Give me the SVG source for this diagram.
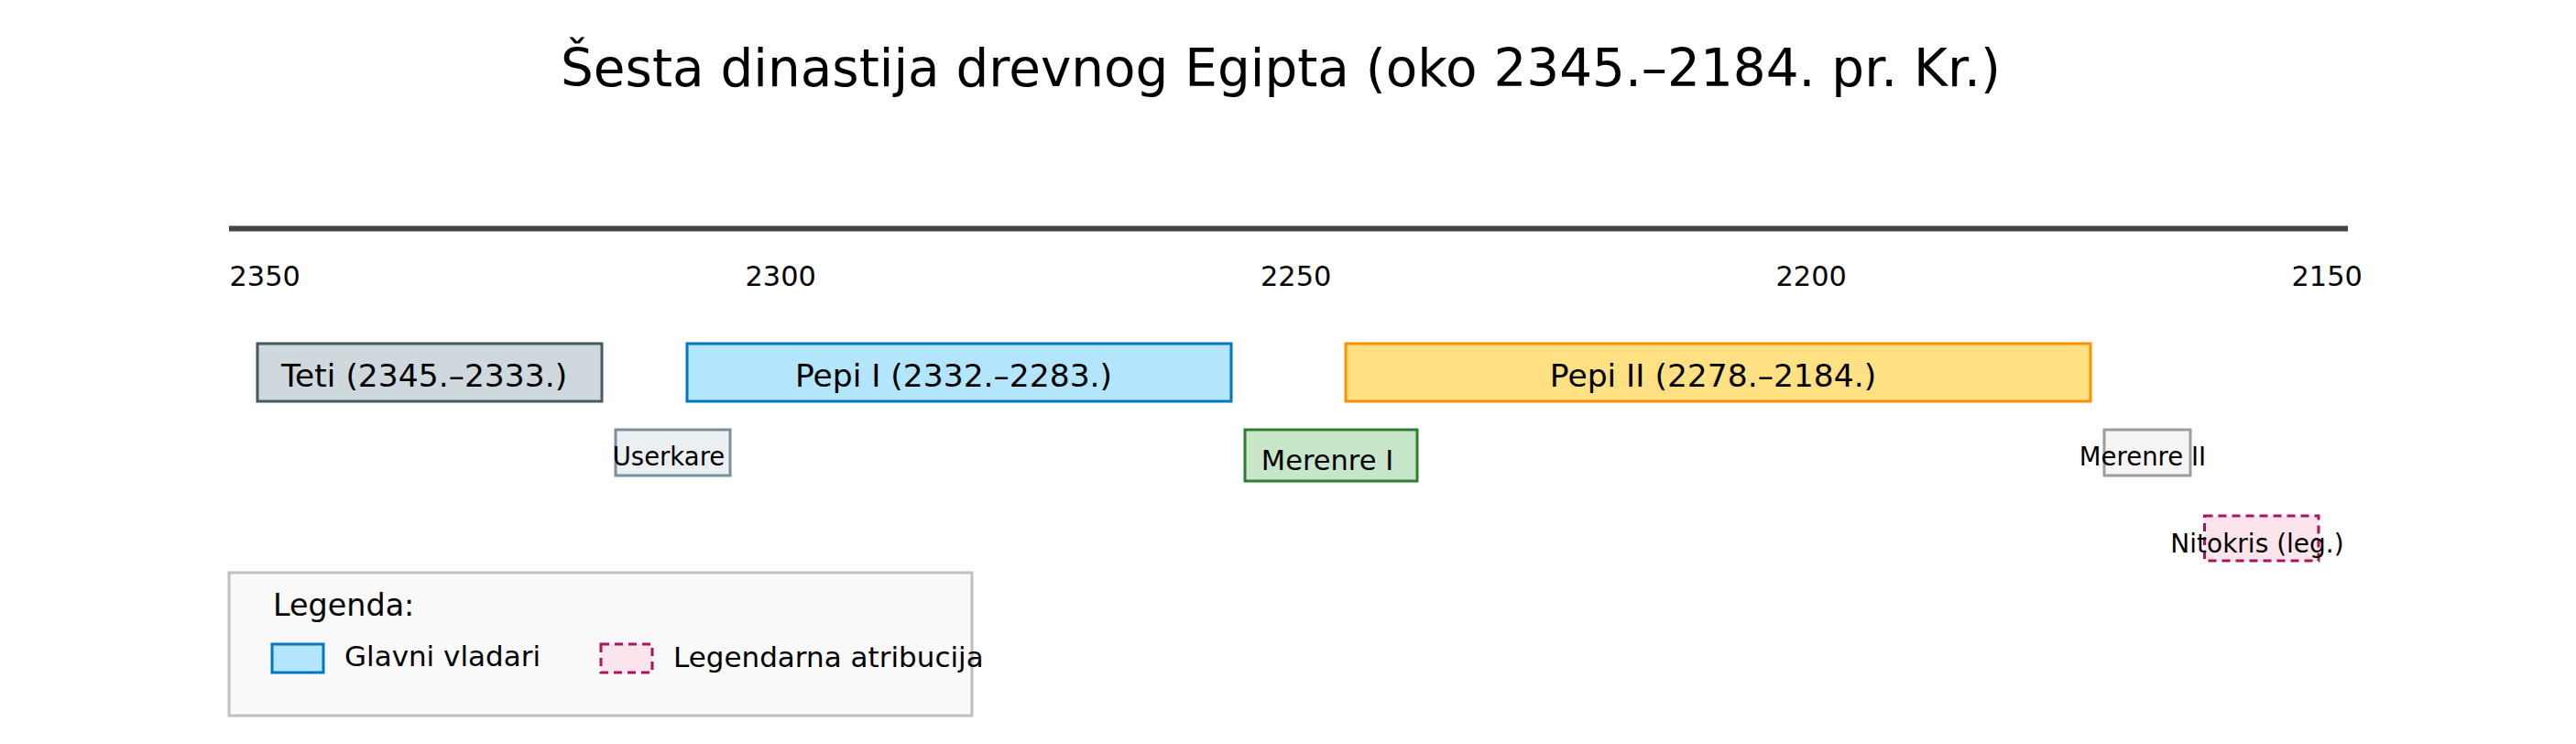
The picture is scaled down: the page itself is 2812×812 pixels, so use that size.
<svg xmlns="http://www.w3.org/2000/svg" width="2812" height="812" viewBox="0 0 2812 812">
<style>
text{font-family:"DejaVu Sans","Liberation Sans",sans-serif;fill:#000}
.title{font-size:56.4px;text-anchor:middle}
.tick{font-size:30.4px}
.big{font-size:34.5px;text-anchor:middle}
.mid{font-size:30.5px;text-anchor:middle}
.small{font-size:27.5px;text-anchor:middle}
.leg{font-size:31px}
.bar{stroke-width:3}
</style>
<rect width="2812" height="812" fill="#fff"/>
<text class="title" x="1398" y="94">Šesta dinastija drevnog Egipta (oko 2345.–2184. pr. Kr.)</text>
<g id="axis">
<line x1="250" y1="249.5" x2="2563" y2="249.5" stroke="#444" stroke-width="6"/>
<text class="tick" x="250.5" y="312">2350</text>
<text class="tick" x="813.5" y="312">2300</text>
<text class="tick" x="1376" y="312">2250</text>
<text class="tick" x="1938.5" y="312">2200</text>
<text class="tick" x="2501.5" y="312">2150</text>
</g>
<g id="connectors"></g>
<g id="teti">
<rect class="bar" x="281" y="375" width="376" height="63" fill="#cfd8dc" stroke="#455a64"/>
<text class="big" x="463" y="422">Teti (2345.–2333.)</text>
</g>
<g id="pepi1">
<rect class="bar" x="750" y="375" width="594" height="63" fill="#b3e5fc" stroke="#0277bd"/>
<text class="big" x="1041" y="422">Pepi I (2332.–2283.)</text>
</g>
<g id="pepi2">
<rect class="bar" x="1469" y="375" width="813" height="63" fill="#ffe082" stroke="#ff8f00"/>
<text class="big" x="1870" y="422">Pepi II (2278.–2184.)</text>
</g>
<g id="userkare">
<rect class="bar" x="672" y="469" width="125" height="50" fill="#eceff1" stroke="#78909c"/>
<text class="small" x="730" y="508">Userkare</text>
</g>
<g id="merenre1">
<rect class="bar" x="1359" y="469" width="188" height="56" fill="#c8e6c9" stroke="#2e7d32"/>
<text class="mid" x="1449" y="513">Merenre I</text>
</g>
<g id="merenre2">
<rect class="bar" x="2297" y="469" width="94" height="50" fill="#f5f5f5" stroke="#9e9e9e"/>
<text class="small" x="2339" y="508">Merenre II</text>
</g>
<g id="nitokris">
<rect class="bar" x="2406.5" y="563" width="124.5" height="49" fill="#fce4ec" stroke="#ad1457" stroke-dasharray="9 6"/>
<text class="small" x="2464" y="603" style="font-size:28px">Nitokris (leg.)</text>
</g>
<g id="legend">
<rect x="250" y="625" width="811" height="156" fill="#f9f9f9" stroke="#c0c0c0" stroke-width="3"/>
<text x="298" y="672" style="font-size:33.4px">Legenda:</text>
<rect class="bar" x="297" y="703" width="56" height="31" fill="#b3e5fc" stroke="#0277bd"/>
<text class="leg" x="376" y="727">Glavni vladari</text>
<rect class="bar" x="656" y="703" width="56" height="31" fill="#fce4ec" stroke="#ad1457" stroke-dasharray="9 6"/>
<text class="leg" x="735" y="728">Legendarna atribucija</text>
</g>
</svg>
